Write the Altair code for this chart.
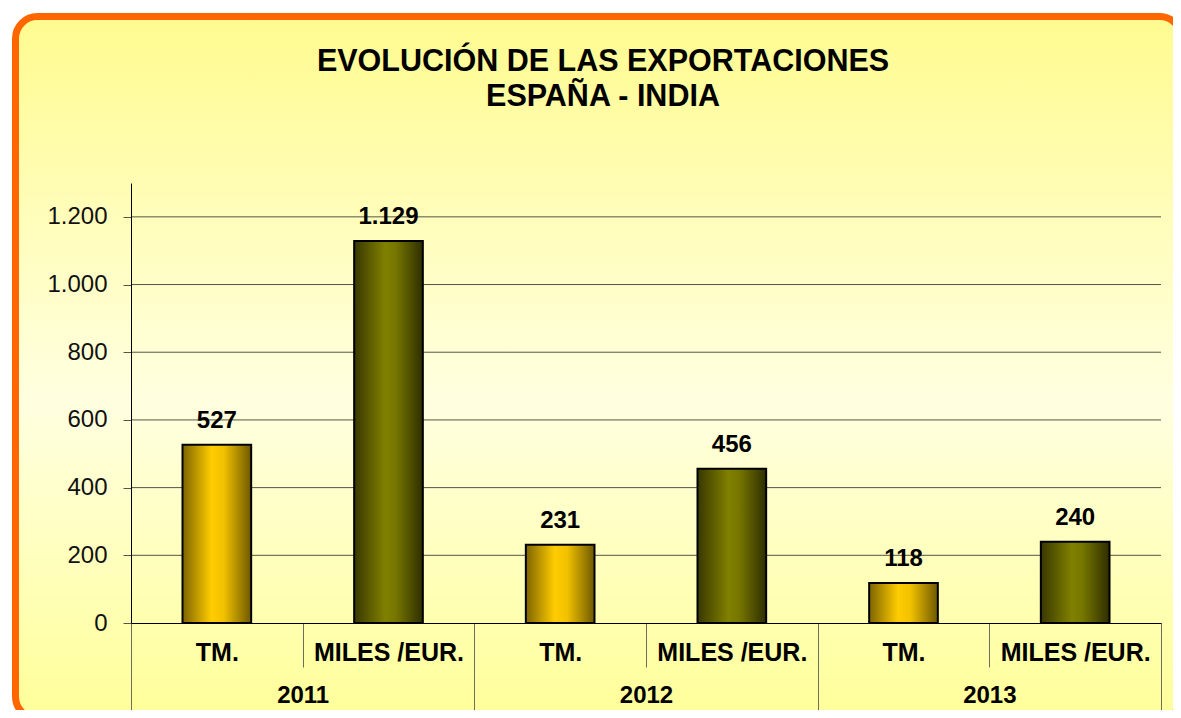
import altair as alt
import pandas as pd

# ---- data ----
years = ["2011", "2012", "2013"]
series = ["TM.", "MILES /EUR."]
tm_values = [527, 231, 118]
miles_values = [1129, 456, 240]
y_ticks = [0, 200, 400, 600, 800, 1000, 1200]
grid_values = [200, 400, 600, 800, 1000, 1200]
title_lines = ["EVOLUCIÓN DE LAS EXPORTACIONES", "ESPAÑA - INDIA"]

rows = []
for i, yr in enumerate(years):
    rows.append({"year": yr, "serie": series[0], "key": yr + "|" + series[0], "value": tm_values[i]})
    rows.append({"year": yr, "serie": series[1], "key": yr + "|" + series[1], "value": miles_values[i]})
df = pd.DataFrame(rows)
key_order = list(df["key"])
grid_df = pd.DataFrame({"value": grid_values})
frame_df = pd.DataFrame({"d": [0]})

FONT = "Liberation Sans"
W, H = 1030, 440

yscale = alt.Scale(domain=[0, 1300], nice=False, zero=True)
yaxis = alt.Axis(values=y_ticks, grid=False, domain=True, domainColor="#000",
                 tickColor="#555548", tickSize=8, labelPadding=16,
                 labelFontSize=24, labelFont=FONT, labelColor="#111",
                 labelExpr="replace(format(datum.value, ','), ',', '.')",
                 zindex=1)

def grad_h(stops):
    return alt.Gradient(gradient="linear", x1=0, x2=1, y1=0, y2=0,
                        stops=[alt.GradientStop(offset=o, color=c) for o, c in stops])

tm_fill = grad_h([(0, "#7d6400"), (0.42, "#ffcc00"), (0.6, "#f2c200"), (1, "#6e5800")])
miles_fill = grad_h([(0, "#383800"), (0.45, "#808000"), (0.6, "#777700"), (1, "#2e2e00")])
bg_fill = alt.Gradient(gradient="linear", x1=0, x2=0, y1=0, y2=1,
                       stops=[alt.GradientStop(offset=0, color="#fffb90"),
                              alt.GradientStop(offset=0.55, color="#ffffe0"),
                              alt.GradientStop(offset=1, color="#ffff99")])

frame = alt.Chart(frame_df).mark_rect(
    fill=bg_fill, stroke="#ff6600", strokeWidth=7, cornerRadius=22
).encode(
    x=alt.value(-115.5), x2=alt.value(W + 20.5),
    y=alt.value(-166.5), y2=alt.value(H + 95.5)
)

title1 = alt.Chart(frame_df).mark_text(
    fontSize=30.5, fontWeight="bold", font=FONT, color="#000", align="center", baseline="middle"
).encode(x=alt.value(472), y=alt.value(-121), text=alt.value(title_lines[0]))
title2 = alt.Chart(frame_df).mark_text(
    fontSize=30.5, fontWeight="bold", font=FONT, color="#000", align="center", baseline="middle"
).encode(x=alt.value(472), y=alt.value(-86), text=alt.value(title_lines[1]))

grid = alt.Chart(grid_df).mark_rule(color="#555548", strokeWidth=1).encode(
    y=alt.Y("value:Q", scale=yscale, axis=yaxis, title=None)
)

year_layer = alt.Chart(df).mark_text(opacity=0).encode(
    x=alt.X("year:N", sort=years, title=None,
            scale=alt.Scale(paddingInner=0, paddingOuter=0),
            axis=alt.Axis(orient="bottom", domain=False, tickBand="extent",
                          tickSize=87, tickColor="#6e6e60", tickWidth=1,
                          labelPadding=-15, labelBaseline="middle", labelAngle=0,
                          labelFontSize=24, labelFontWeight="bold", labelFont=FONT,
                          labelColor="#000", zindex=1)),
    text=alt.value("")
)

xenc = alt.X("key:N", sort=key_order, title=None,
             scale=alt.Scale(paddingInner=0, paddingOuter=0),
             axis=alt.Axis(orient="bottom", domain=True, domainColor="#000", domainWidth=1,
                           tickBand="extent", tickSize=44, tickColor="#6e6e60", tickWidth=1,
                           labelExpr="split(datum.label, '|')[1]",
                           labelPadding=-15, labelBaseline="middle", labelAngle=0,
                           labelFontSize=25, labelFontWeight="bold", labelFont=FONT,
                           labelColor="#000", zindex=1))
yenc = alt.Y("value:Q", scale=yscale, title=None, axis=yaxis)

base = alt.Chart(df).encode(x=xenc, y=yenc)

bars_tm = base.transform_filter(alt.datum.serie == series[0]).mark_bar(
    fill=tm_fill, stroke="#000", strokeWidth=2, width=alt.RelativeBandSize(0.4))
bars_miles = base.transform_filter(alt.datum.serie == series[1]).mark_bar(
    fill=miles_fill, stroke="#000", strokeWidth=2, width=alt.RelativeBandSize(0.4))
labels = base.transform_calculate(
    lbl="replace(format(datum.value, ','), ',', '.')"
).mark_text(fontSize=24, fontWeight="bold", font=FONT, color="#000",
            baseline="middle", dy=-24).encode(text="lbl:N")

inner = alt.layer(bars_tm, bars_miles, labels)

chart = alt.layer(frame, title1, title2, grid, year_layer, inner).resolve_scale(x="independent").properties(
    width=W, height=H,
    autosize=alt.AutoSizeParams(type="none"),
    padding={"left": 123, "top": 175, "right": 12, "bottom": 87},
).configure_view(strokeWidth=0).configure(background="#ffffff")

chart.save("out.html", embed_options={"renderer": "svg", "actions": False})
